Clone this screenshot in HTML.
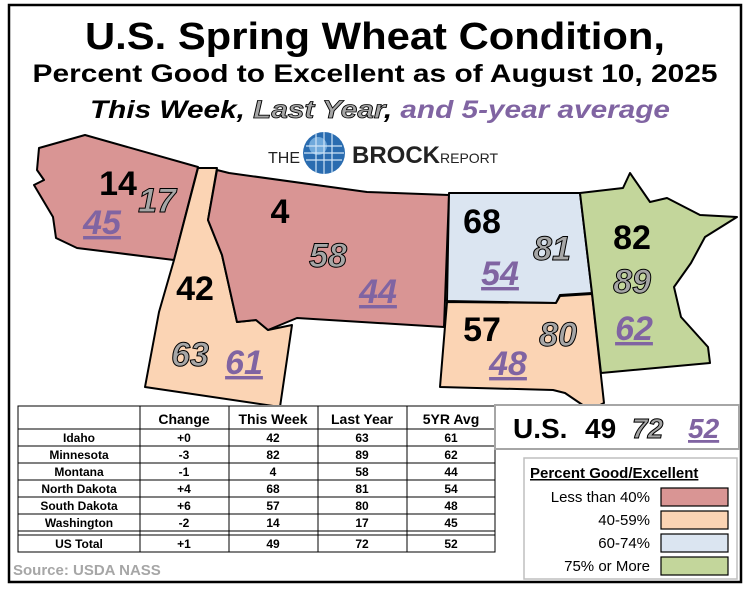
<!DOCTYPE html>
<html><head><meta charset="utf-8"><style>
body{margin:0;background:#fff;}
svg text{font-family:"Liberation Sans",Arial,sans-serif;}
</style></head><body>
<svg width="749" height="587" viewBox="0 0 749 587" xmlns="http://www.w3.org/2000/svg">
<rect x="9" y="5" width="732" height="577" fill="#fff" stroke="#000" stroke-width="2.5"/>
<g font-weight="bold" text-anchor="middle" fill="#000">
<text x="375" y="49" font-size="38" textLength="580" lengthAdjust="spacingAndGlyphs">U.S. Spring Wheat Condition,</text>
<text x="375" y="82" font-size="25" textLength="685" lengthAdjust="spacingAndGlyphs">Percent Good to Excellent as of August 10, 2025</text>
<text x="380" y="118" font-size="25" font-style="italic" textLength="580" lengthAdjust="spacingAndGlyphs"><tspan>This Week, </tspan><tspan fill="#a6a6a6" stroke="#000" stroke-width="0.8">Last Year</tspan><tspan>, </tspan><tspan fill="#8064a2">and 5-year average</tspan></text>
</g>
<!-- map -->
<g stroke="#000" stroke-width="2" stroke-linejoin="round">
<path fill="#d99594" d="M39,148 L85,135 L198,167 L174,260 L77,248 L56,238 L53,217 L34,185 L44,180 L37,170 Z"/>
<path fill="#fbd4b4" d="M198,168 L217,168 L208,220 L222,255 L237,322 L256,320 L268,330 L292,325 L280,407 L145,387 L159,312 L174,260 Z"/>
<path fill="#d99594" d="M217,170 L229,173 L367,192 L449,195 L444,327 L297,318 L268,330 L256,320 L237,322 L222,255 L208,220 Z"/>
<path fill="#dbe5f1" d="M449,193 L580,193 L592,293 L560,295 L556,303 L447,301 Z"/>
<path fill="#fbd4b4" d="M447,302 L556,303 L560,296 L592,294 L604,403 L590,410 L565,393 L553,390 L440,387 Z"/>
<path fill="#c3d69b" d="M580,193 L623,188 L630,173 L650,202 L667,198 L700,215 L737,217 L705,237 L691,263 L674,287 L681,317 L708,347 L710,363 L601,373 L592,293 Z"/>
</g>
<rect x="17" y="405" width="480" height="160" fill="#fff"/>
<!-- logo -->
<text x="268" y="163" font-size="16" fill="#222">THE</text>
<circle cx="324" cy="153" r="21" fill="#2a6cb0"/>
<circle cx="318" cy="146" r="9" fill="#8ec3ee" opacity="0.7"/>
<g stroke="#cfe4f7" stroke-width="1.2" fill="none"><path d="M306 146H342M304 153H344M306 160H342M316 133V173M324 132V174M332 133V173"/></g>
<text x="352" y="163" font-size="24" fill="#222" font-weight="bold">BROCK</text>
<text x="440" y="163" font-size="14" fill="#222">REPORT</text>
<g font-weight="bold" font-size="34">
<g fill="#000" text-anchor="middle">
<text x="118" y="195">14</text><text x="280" y="223">4</text><text x="195" y="300">42</text>
<text x="482" y="233">68</text><text x="632" y="249">82</text><text x="482" y="341">57</text>
</g>
<g fill="#a6a6a6" stroke="#000" stroke-width="1" font-style="italic" text-anchor="middle">
<text x="157" y="212">17</text><text x="328" y="267">58</text><text x="190" y="366">63</text>
<text x="552" y="260">81</text><text x="632" y="293">89</text><text x="558" y="346">80</text>
</g>
<g fill="#8064a2" font-style="italic" text-anchor="middle" text-decoration="underline">
<text x="102" y="234">45</text><text x="378" y="303">44</text><text x="244" y="374">61</text>
<text x="500" y="285">54</text><text x="634" y="340">62</text><text x="508" y="375">48</text>
</g>
</g>
<!-- table -->
<g stroke="#000" stroke-width="1" fill="none">
<rect x="18" y="406" width="477" height="146"/>
<path d="M140,406V552M229,406V552M318,406V552M407,406V552"/>
<path d="M18,429H495M18,446H495M18,463H495M18,480H495M18,497H495M18,514H495M18,531H495M18,535H495"/>
</g>
<g font-size="12" font-weight="bold" text-anchor="middle" fill="#000">
<text x="184" y="424" font-size="14">Change</text><text x="273" y="424" font-size="14">This Week</text><text x="362" y="424" font-size="14">Last Year</text><text x="451" y="424" font-size="14">5YR Avg</text>
<text x="79" y="442">Idaho</text><text x="184" y="442">+0</text><text x="273" y="442">42</text><text x="362" y="442">63</text><text x="451" y="442">61</text>
<text x="79" y="459">Minnesota</text><text x="184" y="459">-3</text><text x="273" y="459">82</text><text x="362" y="459">89</text><text x="451" y="459">62</text>
<text x="79" y="476">Montana</text><text x="184" y="476">-1</text><text x="273" y="476">4</text><text x="362" y="476">58</text><text x="451" y="476">44</text>
<text x="79" y="493">North Dakota</text><text x="184" y="493">+4</text><text x="273" y="493">68</text><text x="362" y="493">81</text><text x="451" y="493">54</text>
<text x="79" y="510">South Dakota</text><text x="184" y="510">+6</text><text x="273" y="510">57</text><text x="362" y="510">80</text><text x="451" y="510">48</text>
<text x="79" y="527">Washington</text><text x="184" y="527">-2</text><text x="273" y="527">14</text><text x="362" y="527">17</text><text x="451" y="527">45</text>
<text x="79" y="548">US Total</text><text x="184" y="548">+1</text><text x="273" y="548">49</text><text x="362" y="548">72</text><text x="451" y="548">52</text>
</g>
<text x="13" y="575" font-size="15" font-weight="bold" fill="#a6a6a6">Source: USDA NASS</text>
<!-- US box -->
<rect x="495" y="405" width="244" height="44" fill="#fff" stroke="#a6a6a6" stroke-width="2"/>
<g font-size="28" font-weight="bold">
<text x="513" y="438" fill="#000">U.S.</text><text x="585" y="438" fill="#000">49</text>
<text x="632" y="438" fill="#a6a6a6" stroke="#000" stroke-width="1" font-style="italic">72</text>
<text x="688" y="438" fill="#8064a2" font-style="italic" text-decoration="underline">52</text>
</g>
<!-- legend -->
<rect x="524" y="458" width="213" height="121" fill="#fff" stroke="#bfbfbf" stroke-width="1.5"/>
<text x="530" y="478" font-size="15" font-weight="bold" text-decoration="underline">Percent Good/Excellent</text>
<g font-size="15" text-anchor="end" fill="#000">
<text x="650" y="502">Less than 40%</text><text x="650" y="525">40-59%</text><text x="650" y="548">60-74%</text><text x="650" y="571">75% or More</text>
</g>
<g stroke="#000" stroke-width="1.2">
<rect x="661" y="488" width="67" height="18" fill="#d99594"/>
<rect x="661" y="511" width="67" height="18" fill="#fbd4b4"/>
<rect x="661" y="534" width="67" height="18" fill="#dbe5f1"/>
<rect x="661" y="557" width="67" height="18" fill="#c3d69b"/>
</g>
</svg>
</body></html>
